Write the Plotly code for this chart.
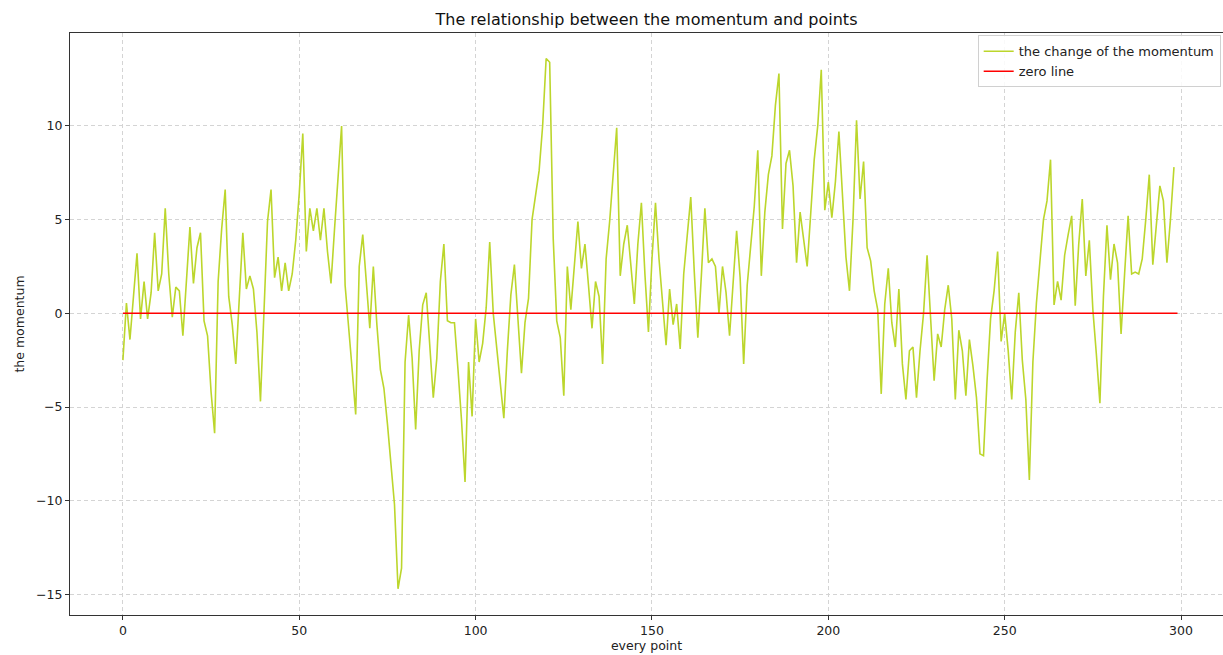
import plotly.graph_objects as go

# the change of the momentum (one value per point, x = 0..298)
momentum_change = [
    -2.5, 0.55, -1.4, 0.9, 3.2, -0.3, 1.7, -0.3, 1.1, 4.3,
    1.2, 2.1, 5.6, 2.1, -0.2, 1.4, 1.2, -1.2, 1.9, 4.6,
    1.6, 3.5, 4.3, -0.4, -1.2, -4.2, -6.4, 1.7, 4.5, 6.6,
    0.9, -0.6, -2.7, 0.9, 4.3, 1.3, 2.0, 1.3, -1.0, -4.7,
    0.2, 4.9, 6.6, 1.9, 3.0, 1.2, 2.7, 1.2, 2.1, 3.9,
    6.4, 9.6, 3.3, 5.6, 4.4, 5.6, 3.9, 5.6, 3.3, 1.6,
    4.5, 7.2, 10.0, 1.5, -0.6, -3.0, -5.4, 2.5, 4.2, 1.9,
    -0.8, 2.5, -0.6, -3.0, -4.0, -5.9, -8.1, -10.2, -14.7, -13.6,
    -2.6, -0.1, -2.4, -6.2, -2.0, 0.45, 1.1, -2.0, -4.5, -2.4,
    1.7, 3.7, -0.4, -0.5, -0.5, -3.0, -5.7, -9.0, -2.6, -5.5,
    -0.3, -2.6, -1.6, 0.3, 3.8, 0.0, -2.0, -3.8, -5.6, -2.0,
    1.0, 2.6, -0.5, -3.2, -0.5, 0.8, 5.0, 6.4, 7.6, 10.0,
    13.6, 13.4, 4.0, -0.4, -1.3, -4.4, 2.5, 0.2, 2.8, 4.9,
    2.4, 3.7, 1.5, -0.8, 1.7, 0.9, -2.7, 2.9, 4.9, 7.2,
    9.9, 2.0, 3.7, 4.7, 2.5, 0.5, 3.7, 5.9, 2.1, -1.0,
    2.9, 5.9, 2.9, 0.5, -1.7, 1.3, -0.6, 0.5, -1.9, 2.1,
    4.0, 6.2, 2.2, -1.3, 2.0, 5.6, 2.7, 2.9, 2.5, 0.0,
    2.5, 1.1, -1.2, 1.5, 4.4, 1.9, -2.7, 1.5, 3.5, 5.7,
    8.7, 2.0, 5.4, 7.4, 8.4, 11.1, 12.8, 4.5, 8.0, 8.7,
    6.8, 2.7, 5.4, 4.0, 2.5, 5.3, 8.2, 10.0, 13.0, 5.5,
    7.0, 5.1, 7.0, 9.7, 6.2, 3.0, 1.2, 5.0, 10.3, 6.1,
    8.1, 3.5, 2.8, 1.2, 0.2, -4.3, 0.5, 2.4, -0.5, -1.8,
    1.3, -2.7, -4.6, -2.0, -1.8, -4.5, -2.0, 0.0, 3.1, -0.3,
    -3.6, -1.1, -1.8, 0.2, 1.5, -0.3, -4.6, -0.9, -2.0, -4.4,
    -1.4, -2.8, -4.5, -7.5, -7.6, -3.6, -0.3, 1.2, 3.3, -1.5,
    0.0, -2.0, -4.6, -1.0, 1.1, -2.5, -4.6, -8.9, -2.6, 0.55,
    2.9, 5.0, 6.0, 8.2, 0.45, 1.7, 0.7, 3.1, 4.2, 5.2,
    0.4, 3.7, 6.1, 2.0, 3.9, 0.2, -2.2, -4.8, 0.9, 4.7,
    1.8, 3.7, 2.7, -1.1, 2.1, 5.2, 2.1, 2.2, 2.1, 2.9,
    5.0, 7.4, 2.6, 4.8, 6.8, 6.0, 2.7, 5.0, 7.8,
]
points = list(range(len(momentum_change)))

# zero line spans 300 points
zero_points = list(range(300))
zero_values = [0] * 300

x_ticks = [0, 50, 100, 150, 200, 250, 300]
y_ticks = [-15, -10, -5, 0, 5, 10]

fig = go.Figure()
fig.add_trace(go.Scatter(
    x=points, y=momentum_change, mode="lines",
    name="the change of the momentum",
    line=dict(color="#bcd62c", width=1.6),
))
fig.add_trace(go.Scatter(
    x=[zero_points[0], zero_points[-1]], y=[zero_values[0], zero_values[-1]],
    mode="lines", name="zero line",
    line=dict(color="#ff0000", width=1.6),
))

grid = dict(showgrid=True, gridcolor="#d4d4d4", griddash="4px,3px", gridwidth=1)
fig.update_layout(
    width=1223, height=655,
    margin=dict(l=70, r=0, t=33, b=40),
    paper_bgcolor="white", plot_bgcolor="white",
    font=dict(family="DejaVu Sans", size=12, color="#222222"),
    title=dict(text="The relationship between the momentum and points",
               x=0.5, xanchor="center", xref="paper",
               y=1 - 19 / 655, yanchor="middle",
               font=dict(size=16, color="#111111")),
    showlegend=True,
    legend=dict(x=0.998, xanchor="right", y=0.996, yanchor="top",
                bgcolor="rgba(255,255,255,0.85)", bordercolor="#d0d0d0",
                borderwidth=1, font=dict(size=13), itemwidth=30,
                tracegroupgap=0),
    xaxis=dict(range=[-15.0, 311.9], tickvals=x_ticks,
               ticks="outside", ticklen=4, tickcolor="#333",
               tickfont=dict(size=12.5),
               showline=True, linecolor="#333", linewidth=1, mirror=True,
               zeroline=False,
               title=dict(text="every point", standoff=4, font=dict(size=12.5)),
               **grid),
    yaxis=dict(range=[-16.1, 14.96], tickvals=y_ticks,
               ticks="outside", ticklen=4, tickcolor="#333",
               tickfont=dict(size=12.5),
               showline=True, linecolor="#333", linewidth=1, mirror=True,
               zeroline=False,
               title=dict(text="the momentum", standoff=8, font=dict(size=12.5)),
               **grid),
)

fig.write_html("out.html")
